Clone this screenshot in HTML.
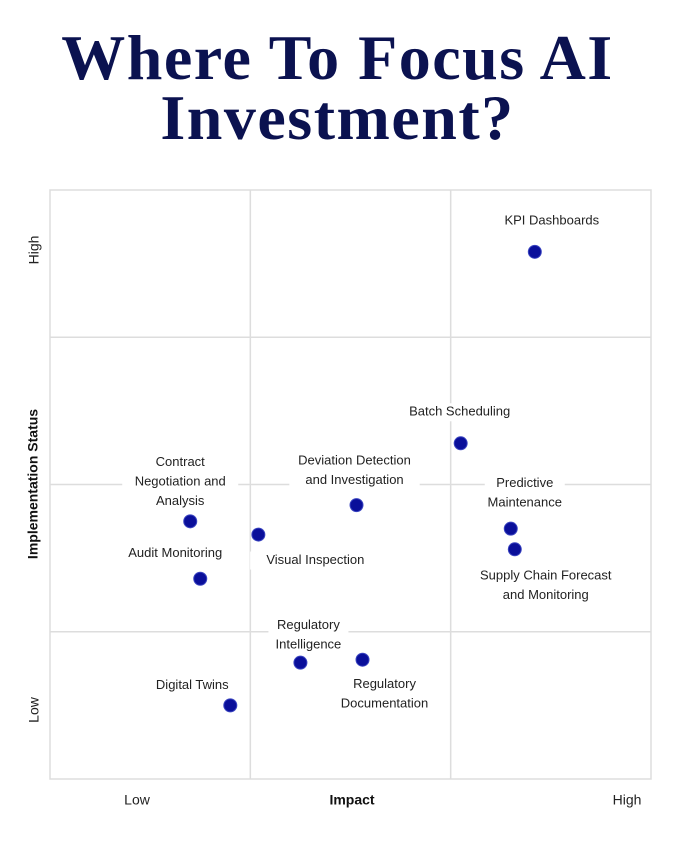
<!DOCTYPE html>
<html><head><meta charset="utf-8"><style>
html,body{margin:0;padding:0;background:#fff;width:675px;height:844px;overflow:hidden}
.title{position:absolute;left:0;width:675px;text-align:center;font-family:"Liberation Serif",serif;font-weight:bold;color:#0b1250;font-size:64px;line-height:60px;letter-spacing:1.5px}
</style></head><body>
<div class="title" style="top:28px">Where To Focus AI<br>Investment?</div>
<svg id="chart" width="675" height="844" style="position:absolute;left:0;top:0"></svg>
<script>
const names=["KPI Dashboards","Batch Scheduling","Deviation Detection|and Investigation","Predictive|Maintenance","Supply Chain Forecast|and Monitoring","Contract|Negotiation and|Analysis","Visual Inspection","Audit Monitoring","Regulatory|Intelligence","Regulatory|Documentation","Digital Twins"];
const impact=[2.42,2.05,1.53,2.30,2.32,0.70,1.04,0.75,1.25,1.56,0.90];
const status=[3.58,2.28,1.86,1.70,1.56,1.75,1.66,1.36,0.79,0.81,0.50];
const labelDx=[17,-1,-2,14,31,-10,57,-25,8,22,-38];
const labelDy=[-31,-31,-44,-45,27,-59,26,-25,-37,25,-20];
const L=50,R=651,T=190,B=779,XMAX=3,YMAX=4;
const sx=v=>L+v/XMAX*(R-L), sy=v=>B-v/YMAX*(B-T);
const svg=document.getElementById('chart');const NS='http://www.w3.org/2000/svg';
function mk(t,a,p){const e=document.createElementNS(NS,t);for(const k in a)e.setAttribute(k,a[k]);(p||svg).appendChild(e);return e;}
let r=mk('rect',{x:L,y:T,width:R-L,height:B-T,fill:'none',stroke:'#ddd','stroke-width':1.5});


for(let i=1;i<XMAX;i++){const l=mk('line',{x1:sx(i),x2:sx(i),y1:T,y2:B,stroke:'#ddd','stroke-width':1.5});

}
for(let i=1;i<YMAX;i++){const l=mk('line',{x1:L,x2:R,y1:sy(i),y2:sy(i),stroke:'#ddd','stroke-width':1.5});

}
function txt(s,x,y,o){const t=mk('text',Object.assign({x:x,y:y,'font-family':'Liberation Sans, sans-serif','font-size':13,fill:'#222','text-anchor':'middle','dominant-baseline':'middle'},o||{}));t.textContent=s;return t;}
names.forEach((n,i)=>{const px=sx(impact[i]),py=sy(status[i]);
const lines=n.split('|');const g=mk('g',{});


lines.forEach((ln,j)=>{const cy=py+labelDy[i]+j*19.5;const w=ln.length*7.2+8;
mk('rect',{x:px+labelDx[i]-w/2,y:cy-9,width:w,height:18,fill:'#fff'},g);
const t=txt(ln,px+labelDx[i],cy);g.appendChild(t);});
const c=mk('circle',{cx:px,cy:py,r:6.5,fill:'#0a0f9a',stroke:'#3a44c0','stroke-width':1});

});
let a;
a=txt('High',35,250,{transform:'rotate(-90 35 250)','font-size':14});
a=txt('Low',35,710,{transform:'rotate(-90 35 710)','font-size':14});
a=txt('Implementation Status',34,484,{transform:'rotate(-90 34 484)','font-size':14,'font-weight':'bold',fill:'#111'});
a=txt('Low',137,801,{'font-size':14});
a=txt('Impact',352,801,{'font-size':14,'font-weight':'bold',fill:'#111'});
a=txt('High',627,801,{'font-size':14});
</script>
</body></html>
